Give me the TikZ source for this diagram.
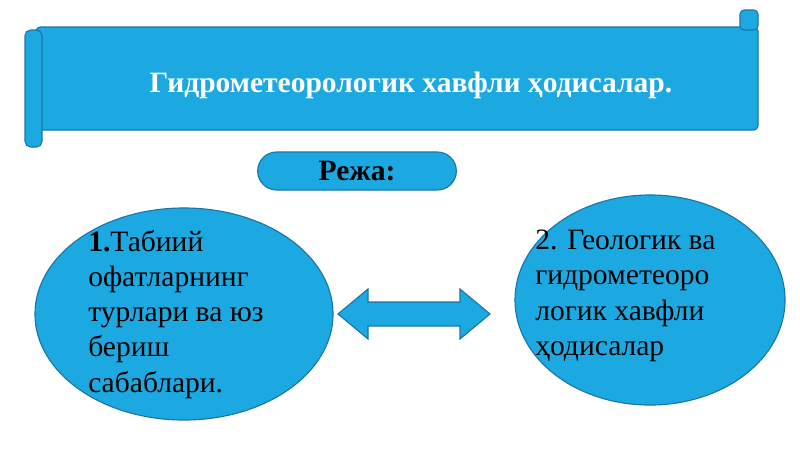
\documentclass[tikz,border=0pt]{standalone}
\usepackage{fontspec}
\setmainfont{Liberation Serif}
\usetikzlibrary{shapes,arrows,positioning,calc}
\definecolor{scrollblue}{HTML}{1CA9E1}
\definecolor{edgeblue}{HTML}{1B75A8}
\tikzset{
  bluebox/.style = {fill=scrollblue, draw=edgeblue, thick},
  bigoval/.style = {bluebox, ellipse, inner sep=0pt},
  ovaltext/.style = {align=left, font=\fontsize{21}{25}\selectfont, inner sep=0pt}
}
\begin{document}
\begin{tikzpicture}[x=0.025cm, y=-0.025cm]
\useasboundingbox (0,0) rectangle (800,449);

% scroll banner
\draw[bluebox, rounded corners=3pt] (36,27) rectangle (758,130);
\draw[bluebox, rounded corners=4pt] (25,30) rectangle (42,147);
\draw[bluebox, rounded corners=3pt] (740,10) rectangle (758,30);
\node[text=white, font=\bfseries\fontsize{21}{24}\selectfont] (title) at (411,85)
  {Гидрометеорологик хавфли ҳодисалар.};

% plan label
\node[bluebox, rounded rectangle, minimum width=5.2cm, minimum height=0.95cm,
  font=\bfseries\fontsize{21}{24}\selectfont] (plan) at (357,171) {Режа:};

% two ovals
\node[bigoval, minimum width=7.45cm, minimum height=5.3cm] (left) at (184,314) {};
\node[ovaltext, anchor=north west] (lefttxt) at (88,230)
  {\textbf{1.}Табиий\\офатларнинг\\турлари ва юз\\бериш\\сабаблари.};
\node[bigoval, minimum width=6.75cm, minimum height=5.25cm] (right) at (650,300) {};
\node[ovaltext, anchor=north west] (righttxt) at (535,230)
  {2. Геологик ва\\гидрометеоро\\логик хавфли\\ҳодисалар};

% double arrow between ovals
\coordinate (link) at (414,314);
\draw[bluebox] ($(link)+(-76,0)$) -- ++(30,-25) -- ++(0,13) -- ++(92,0) -- ++(0,-13)
  -- ++(30,25) -- ++(-30,25) -- ++(0,-13) -- ++(-92,0) -- ++(0,13) -- cycle;
\end{tikzpicture}
\end{document}
